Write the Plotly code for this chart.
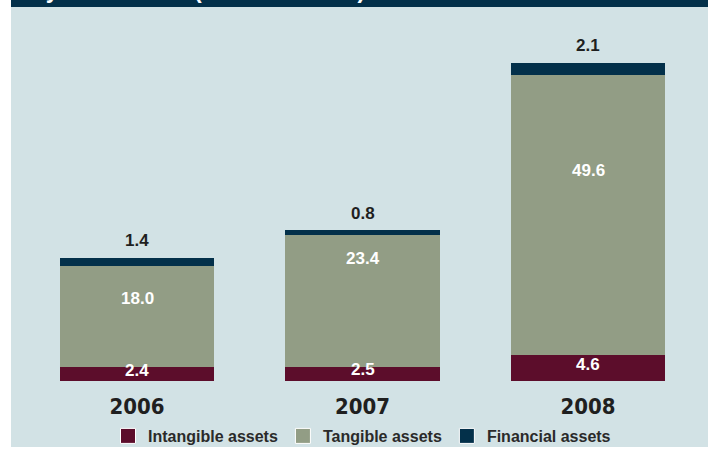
import plotly.graph_objects as go

years = ["2006", "2007", "2008"]
intangible = [2.4, 2.5, 4.6]
tangible = [18.0, 23.4, 49.6]
financial = [1.4, 0.8, 2.1]
series_names = ["Intangible assets", "Tangible assets", "Financial assets"]
title_text = "Investments by asset class (in EUR million)"

# label placement (fraction of the tangible segment height, from its bottom)
tangible_label_frac = [0.68, 0.82, 0.66]

C_INT = "#5c0d2b"
C_TAN = "#929d85"
C_FIN = "#03304a"
PANEL = "#d2e2e5"
TXT = "#1f1f1f"

W, H = 708, 450
ML, MR, MT, MB = 11, 0, 7, 69
plot_h = H - MT - MB
px_per_unit = 5.65
ymax = plot_h / px_per_unit

fig = go.Figure()
for vals, name, col in [(intangible, series_names[0], C_INT),
                        (tangible, series_names[1], C_TAN),
                        (financial, series_names[2], C_FIN)]:
    fig.add_trace(go.Bar(x=list(range(len(years))), y=vals, name=name,
                         marker=dict(color=col, line=dict(width=0)),
                         width=0.683, showlegend=False, hoverinfo="skip"))
for name, col in zip(series_names, [C_INT, C_TAN, C_FIN]):
    # legend proxy
    fig.add_trace(go.Scatter(x=[None], y=[None], mode="markers", name=name,
                             marker=dict(symbol="square", size=15, color=col,
                                         line=dict(color="white", width=1)),
                             showlegend=True))

LBL = "Liberation Sans, Arial"
annotations = []
for i in range(len(years)):
    total = intangible[i] + tangible[i] + financial[i]
    annotations.append(dict(x=i, y=total, xref="x", yref="y", text=f"{financial[i]:.1f}",
                            showarrow=False, yshift=17, yanchor="middle",
                            font=dict(family=LBL, size=17, color=TXT, weight="bold")))
    annotations.append(dict(x=i, y=intangible[i] + tangible[i] * tangible_label_frac[i],
                            xref="x", yref="y", text=f"{tangible[i]:.1f}",
                            showarrow=False, yanchor="middle",
                            font=dict(family=LBL, size=17, color="white", weight="bold")))
    annotations.append(dict(x=i, y=intangible[i] / 2, xref="x", yref="y", text=f"{intangible[i]:.1f}",
                            showarrow=False, yanchor="middle", yshift=4,
                            font=dict(family=LBL, size=17, color="white", weight="bold")))

annotations.append(dict(x=(366 - ML) / (W - ML - MR), y=1.0, xref="paper", yref="paper",
                        xanchor="right", yanchor="bottom", text=title_text, showarrow=False,
                        yshift=3, borderpad=0,
                        font=dict(family=LBL, size=23, color="white", weight="bold")))

panel_bottom = -(447 - (H - MB)) / plot_h
shapes = [
    dict(type="rect", xref="paper", yref="paper", x0=0, x1=1, y0=panel_bottom, y1=1,
         fillcolor=PANEL, line=dict(width=0), layer="below"),
    dict(type="rect", xref="paper", yref="paper", x0=0, x1=1, y0=1, y1=1.1,
         fillcolor=C_FIN, line=dict(width=0), layer="below"),
]

span = (W - ML - MR) / 225.5
r0 = -(137 - ML) / 225.5

fig.update_layout(
    width=W, height=H, barmode="stack",
    margin=dict(l=ML, r=MR, t=MT, b=MB, pad=0, autoexpand=False),
    paper_bgcolor="white", plot_bgcolor="rgba(0,0,0,0)",
    xaxis=dict(range=[r0, r0 + span], tickmode="array", tickvals=list(range(len(years))),
               ticktext=years, showgrid=False, zeroline=False, showline=False,
               ticks="outside", ticklen=6, tickcolor="rgba(0,0,0,0)",
               tickfont=dict(family="DejaVu Sans Condensed, DejaVu Sans", size=22, color=TXT, weight="bold"),
               fixedrange=True, automargin=False),
    yaxis=dict(range=[0, ymax], visible=False, fixedrange=True),
    legend=dict(orientation="h", x=(362 - ML) / (W - ML - MR), xanchor="center",
                y=(H - MB - 436) / plot_h, yanchor="middle", bgcolor="rgba(0,0,0,0)",
                font=dict(family="Liberation Sans Narrow, Liberation Sans, Arial", size=16, color="#2a2a2a", weight="bold"),
                itemwidth=30, tracegroupgap=0, traceorder="normal"),
    shapes=shapes, annotations=annotations,
    showlegend=True,
)

fig.write_html("out.html", config={"displayModeBar": False})

# remove the default page margin so the figure sits at the window's corner
with open("out.html", "r", encoding="utf-8") as f:
    html = f.read()
html = html.replace("<head>", "<head><style>html,body{margin:0;padding:0;overflow:hidden;}</style>", 1)
with open("out.html", "w", encoding="utf-8") as f:
    f.write(html)
